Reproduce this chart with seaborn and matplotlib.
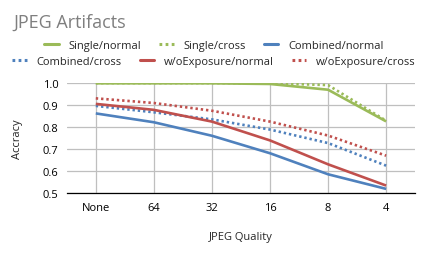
import matplotlib
matplotlib.use("Agg")
import matplotlib.pyplot as plt
from matplotlib.lines import Line2D
import seaborn as sns
import pandas as pd

# ── Data ──────────────────────────────────────────────────────────────────────
quality = ["None", "64", "32", "16", "8", "4"]

single_normal   = [0.997, 0.997, 0.997, 0.994, 0.968, 0.825]
single_cross    = [0.998, 0.998, 0.998, 0.997, 0.989, 0.828]
combined_normal = [0.861, 0.821, 0.760, 0.681, 0.586, 0.520]
combined_cross  = [0.895, 0.866, 0.834, 0.788, 0.727, 0.625]
woexp_normal    = [0.904, 0.877, 0.824, 0.739, 0.631, 0.535]
woexp_cross     = [0.929, 0.908, 0.873, 0.824, 0.761, 0.670]

GREEN, BLUE, RED = "#9BBB59", "#4F81BD", "#C0504D"
DOT = (0, (0.9, 1.1))

series = [
    ("Single/normal",      single_normal,   GREEN, "-"),
    ("Single/cross",       single_cross,    GREEN, DOT),
    ("Combined/normal",    combined_normal, BLUE,  "-"),
    ("Combined/cross",     combined_cross,  BLUE,  DOT),
    ("w/oExposure/normal", woexp_normal,    RED,   "-"),
    ("w/oExposure/cross",  woexp_cross,     RED,   DOT),
]

sns.set_style("white")
plt.rcParams["font.family"] = ["Open Sans", "DejaVu Sans"]

fig = plt.figure(figsize=(4.28, 2.55), dpi=100)
ax = fig.add_axes([0.156, 0.238, 0.814, 0.434])

pos = list(range(len(quality)))
for name, vals, col, ls in series:
    df = pd.DataFrame({"q": pos, "acc": vals})
    sns.lineplot(data=df, x="q", y="acc", ax=ax, color=col, linewidth=1.9,
                 linestyle=ls, solid_capstyle="butt", dash_capstyle="butt")

ax.set_xlim(-0.5, 5.5)
ax.set_ylim(0.5, 1.0)
ax.set_xticks(pos)
ax.set_xticklabels(quality)
ax.set_yticks([0.5, 0.6, 0.7, 0.8, 0.9, 1.0])
ax.set_yticklabels([f"{v:.1f}" for v in [0.5, 0.6, 0.7, 0.8, 0.9, 1.0]])
ax.tick_params(axis="both", length=0, labelsize=8, colors="#000000", pad=6)
ax.grid(True, color="#BFBFBF", linewidth=0.9)
ax.set_axisbelow(True)
for s in ["top", "right", "left"]:
    ax.spines[s].set_visible(False)
ax.spines["bottom"].set_color("#000000")
ax.spines["bottom"].set_linewidth(0.9)

# axis titles placed where the reference has them
ax.set_xlabel("JPEG Quality", fontsize=8, va="center")
ax.set_ylabel("Accracy", fontsize=8, va="center")
ax.xaxis.set_label_coords(0.5, -0.39)
ax.yaxis.set_label_coords(-0.14, 0.5)

fig.text(13 / 428, 1 - 28 / 255, "JPEG Artifacts", fontsize=13,
         color="#7F7F7F", va="baseline")

# ── Legend: two centred rows like Excel's flowing legend ─────────────────────
handles = [Line2D([0], [0], color=c, linestyle=ls, linewidth=2.2,
                  dash_capstyle="butt") for _, _, c, ls in series]
names = [s[0] for s in series]
for row, y in [(slice(0, 3), 0.818), (slice(3, 6), 0.755)]:
    fig.legend(handles[row], names[row], loc="center", bbox_to_anchor=(0.5, y),
               ncol=3, frameon=False, fontsize=8, handlelength=1.3,
               handletextpad=0.9, columnspacing=1.6, borderpad=0)

plt.savefig("out.png", dpi=100)
plt.close()
